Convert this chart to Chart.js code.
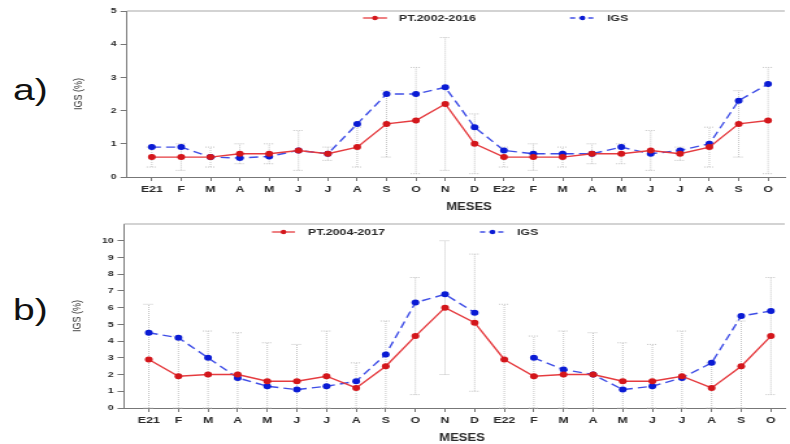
<!DOCTYPE html>
<html lang="es">
<head>
<meta charset="utf-8">
<title>IGS (%)</title>
<script src="https://cdn.jsdelivr.net/npm/chart.js@4.4.1/dist/chart.umd.min.js"></script>
<style>
  html, body { margin: 0; padding: 0; background: #fff; }
  body { width: 790px; height: 444px; position: relative; overflow: hidden;
         font-family: "Liberation Sans", Arial, sans-serif; }
  /* both panels are drawn narrow and widened, like the original figure */
  .wide { position: absolute; left: 0; width: 608px; transform-origin: 0 0; transform: scaleX(1.2993); }
  #wrapA { top: 0; height: 215px; }
  #wrapB { top: 215px; height: 229px; }
  .tag { position: absolute; left: 13px; font-size: 30px; line-height: 1; color: #111;
         transform-origin: 0 0; transform: scaleX(1.3); }
  #tagA { top: 75px; }
  #tagB { top: 295px; }
</style>
</head>
<body>
<div class="tag" id="tagA">a)</div>
<div class="tag" id="tagB">b)</div>
<div class="wide" id="wrapA"><canvas id="chartA"></canvas></div>
<div class="wide" id="wrapB"><canvas id="chartB"></canvas></div>
<script>
const S = 1.2993;

const months = ["E21", "F", "M", "A", "M", "J", "J", "A", "S", "O", "N", "D",
                "E22", "F", "M", "A", "M", "J", "J", "A", "S", "O"];

// a) PT.2002-2016
const ptA   = [0.6, 0.6, 0.6, 0.7, 0.7, 0.8, 0.7, 0.9, 1.6, 1.7, 2.2, 1.0,
               0.6, 0.6, 0.6, 0.7, 0.7, 0.8, 0.7, 0.9, 1.6, 1.7];
const igsA  = [0.9, 0.9, 0.6, 0.57, 0.62, 0.8, 0.7, 1.6, 2.5, 2.5, 2.7, 1.5,
               0.8, 0.7, 0.7, 0.7, 0.9, 0.7, 0.8, 1.0, 2.3, 2.8];
const lowA  = [0.3, 0.2, 0.3, 0.4, 0.4, 0.2, 0.5, 0.3, 0.6, 0.1, 0.2, 0.1,
               0.3, 0.2, 0.3, 0.4, 0.4, 0.2, 0.5, 0.3, 0.6, 0.1];
const highA = [0.9, 1.0, 0.9, 1.0, 1.0, 1.4, 0.9, 1.5, 2.6, 3.3, 4.2, 1.9,
               0.9, 1.0, 0.9, 1.0, 1.0, 1.4, 0.9, 1.5, 2.6, 3.3];
const yTicksA = [0, 1, 2, 3, 4, 5];

// b) PT.2004-2017
const ptB   = [2.9, 1.9, 2.0, 2.0, 1.6, 1.6, 1.9, 1.2, 2.5, 4.3, 6.0, 5.1,
               2.9, 1.9, 2.0, 2.0, 1.6, 1.6, 1.9, 1.2, 2.5, 4.3];
const igsB  = [4.5, 4.2, 3.0, 1.8, 1.3, 1.1, 1.3, 1.6, 3.2, 6.3, 6.8, 5.7,
               null, 3.0, 2.3, 2.0, 1.1, 1.3, 1.8, 2.7, 5.5, 5.8];
const lowB  = [0, 0, 0, 0, 0, 0, 0, 0, 0, 0.8, 2.0, 1.0,
               0, 0, 0, 0, 0, 0, 0, 0, 0, 0.8];
const highB = [6.2, 4.3, 4.6, 4.5, 3.9, 3.8, 4.6, 2.7, 5.2, 7.8, 10.0, 9.2,
               6.2, 4.3, 4.6, 4.5, 3.9, 3.8, 4.6, 2.7, 5.2, 7.8];
const yTicksB = [0, 1, 2, 3, 4, 5, 6, 7, 8, 9, 10];

const RED_LINE = "#e53b3f";
const RED_DOT = "#d3161b";
const BLUE_LINE = "#3f4ee6";
const BLUE_DOT = "#0a1bd4";
const FONT = "'Liberation Sans', Arial, sans-serif";
const INK = "#2a2a2a";

const toPoints = (vals) => vals.map((v, i) => ({ x: i, y: v }));

// dotted grey range bars behind the series
const whiskers = {
  id: "whiskers",
  beforeDatasetsDraw(chart, args, opts) {
    const { ctx, scales: { x, y } } = chart;
    ctx.save();
    ctx.strokeStyle = "#c4c4c4";
    ctx.lineWidth = 1;
    ctx.setLineDash([1, 1]);
    opts.low.forEach((lo, i) => {
      const px = x.getPixelForValue(i);
      const y0 = y.getPixelForValue(lo);
      const y1 = y.getPixelForValue(opts.high[i]);
      ctx.beginPath();
      ctx.moveTo(px, y0); ctx.lineTo(px, y1);
      ctx.moveTo(px - 4, y0); ctx.lineTo(px + 4, y0);
      ctx.moveTo(px - 4, y1); ctx.lineTo(px + 4, y1);
      ctx.stroke();
    });
    ctx.restore();
  }
};

// top edge of the box, legend and axis titles
const decor = {
  id: "decor",
  afterDraw(chart, args, o) {
    const { ctx, chartArea: a } = chart;
    ctx.save();
    ctx.strokeStyle = "#a8a8a8";
    ctx.lineWidth = 1.2;
    ctx.beginPath();
    ctx.moveTo(a.left, a.top); ctx.lineTo(a.right, a.top);
    ctx.stroke();

    o.key.forEach((k) => {
      ctx.strokeStyle = k.line;
      ctx.lineWidth = 1.3;
      ctx.setLineDash(k.dash);
      ctx.beginPath();
      ctx.moveTo(k.x0 / S, o.keyY); ctx.lineTo(k.x1 / S, o.keyY);
      ctx.stroke();
      ctx.setLineDash([]);
      ctx.fillStyle = k.dot;
      ctx.beginPath();
      ctx.arc((k.x0 + k.x1) / 2 / S, o.keyY, 2.2, 0, Math.PI * 2);
      ctx.fill();
      ctx.fillStyle = INK;
      ctx.font = "bold 9.5px " + FONT;
      ctx.textAlign = "left";
      ctx.textBaseline = "middle";
      ctx.fillText(k.text, k.tx / S, o.keyY);
    });

    ctx.fillStyle = INK;
    ctx.font = "bold 10px " + FONT;
    ctx.textAlign = "center";
    ctx.textBaseline = "middle";
    ctx.fillText("MESES", o.xTitle[0] / S, o.xTitle[1]);

    ctx.translate(o.yTitle[0] / S, o.yTitle[1]);
    ctx.rotate(-Math.PI / 2);
    ctx.font = "9px " + FONT;
    ctx.fillText("IGS (%)", 0, 0);
    ctx.restore();
  }
};

function makeChart(id, c) {
  return new Chart(document.getElementById(id), {
    type: "line",
    data: {
      datasets: [
        { label: c.ptLabel, data: toPoints(c.pt), borderColor: RED_LINE, borderWidth: 1.4,
          pointRadius: 3, pointBackgroundColor: RED_DOT, pointBorderColor: RED_DOT,
          pointBorderWidth: 0, tension: 0 },
        { label: "IGS", data: toPoints(c.igs), borderColor: BLUE_LINE, borderWidth: 1.4,
          borderDash: [7, 4], pointRadius: 3, pointBackgroundColor: BLUE_DOT,
          pointBorderColor: BLUE_DOT, pointBorderWidth: 0, tension: 0, spanGaps: false }
      ]
    },
    options: {
      responsive: true,
      maintainAspectRatio: false,
      animation: false,
      layout: { padding: { top: c.top, right: 0, bottom: 0, left: 0 } },
      plugins: {
        legend: { display: false },
        tooltip: { enabled: false },
        whiskers: { low: c.low, high: c.high },
        decor: {
          keyY: c.keyY,
          key: [
            { text: c.ptLabel, line: RED_LINE, dot: RED_DOT, dash: [], x0: c.keyX[0], x1: c.keyX[1], tx: c.keyX[2] },
            { text: "IGS", line: BLUE_LINE, dot: BLUE_DOT, dash: [4, 3], x0: c.keyX[3], x1: c.keyX[4], tx: c.keyX[5] }
          ],
          xTitle: c.xTitle,
          yTitle: c.yTitle
        }
      },
      scales: {
        x: {
          type: "linear",
          min: c.xMin,
          max: c.xMax,
          afterBuildTicks: (axis) => { axis.ticks = months.map((m, i) => ({ value: i })); },
          afterFit: (axis) => { axis.height = c.xAxisH; },
          ticks: { callback: (v) => months[v], autoSkip: false, maxRotation: 0, padding: 3,
                   color: INK, font: { family: FONT, size: 9.5, weight: "bold" } },
          grid: { drawOnChartArea: false, drawTicks: true, tickLength: 4, color: "#777" },
          border: { color: "#777", width: 1 }
        },
        y: {
          min: 0,
          max: c.yMax,
          afterBuildTicks: (axis) => { axis.ticks = c.yTicks.map((v) => ({ value: v })); },
          afterFit: (axis) => { axis.width = c.yAxisW; },
          ticks: { padding: 3, color: INK, font: { family: FONT, size: 8, weight: "bold" } },
          grid: { drawOnChartArea: false, drawTicks: true, tickLength: 5, color: "#777" },
          border: { color: "#777", width: 1 }
        }
      }
    },
    plugins: [whiskers, decor]
  });
}

makeChart("chartA", {
  ptLabel: "PT.2002-2016", pt: ptA, igs: igsA, low: lowA, high: highA,
  yMax: 5, yTicks: yTicksA, top: 11, xAxisH: 38, yAxisW: 127 / S,
  xMin: -0.845, xMax: 21.57,
  keyY: 18, keyX: [363, 387, 399, 570, 595, 607],
  xTitle: [469, 207], yTitle: [79, 94]
});

makeChart("chartB", {
  ptLabel: "PT.2004-2017", pt: ptB, igs: igsB, low: lowB, high: highB,
  yMax: 11, yTicks: yTicksB, top: 9, xAxisH: 36, yAxisW: 124 / S,
  xMin: -0.837, xMax: 21.47,
  keyY: 17, keyX: [272, 295, 308, 480, 505, 517],
  xTitle: [462, 223], yTitle: [77, 101]
});
</script>
</body>
</html>
